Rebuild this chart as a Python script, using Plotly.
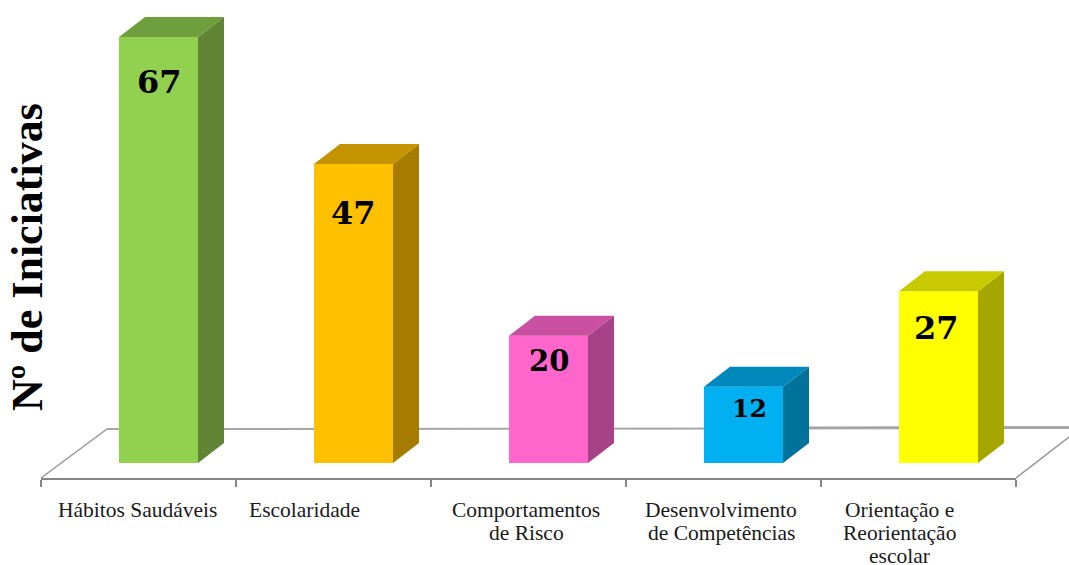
import plotly.graph_objects as go

# ---- data ----
categories = ["Hábitos Saudáveis", "Escolaridade", "Comportamentos de Risco",
              "Desenvolvimento de Competências", "Orientação e Reorientação escolar"]
values = [67, 47, 20, 12, 27]
front_colors = ["#92D050", "#FFC000", "#FF66CC", "#00B0F0", "#FFFF00"]
side_colors = ["#608535", "#A67C00", "#A64285", "#00739C", "#A6A600"]
top_colors = ["#6F9E3D", "#C49400", "#C94FA0", "#0088BA", "#C9C900"]
category_lines = [["Hábitos Saudáveis"], ["Escolaridade"], ["Comportamentos", "de Risco"],
                  ["Desenvolvimento", "de Competências"], ["Orientação e", "Reorientação", "escolar"]]

# ---- layout constants (pixels of the 1069x565 page) ----
W, H = 1069, 565
L, R_PX, FLOOR = 41, 1016, 478
BAND = (R_PX - L) / 5
PX_PER_UNIT = 6.36
ZERO_PX = 463
BAR_W = 79 / BAND
BAR_OFFSET = 20 / BAND
DEPTH_X = 26 / BAND
DEPTH_Y = 20 / PX_PER_UNIT
LABEL_FONT = "Liberation Serif"
VALUE_FONT = "DejaVu Serif"
label_center_px = [137, 304, 526, 721, 899]
value_px = [(159, 82, 32), (353, 213, 32), (549, 361, 29), (749, 408, 25), (936, 328, 32)]

def xpaper(px):
    return (px - L) / (R_PX - L)

def ypaper(py):
    return (FLOOR - py) / FLOOR

fig = go.Figure()
xs = [i + BAR_OFFSET for i in range(len(values))]

# front faces
fig.add_trace(go.Bar(x=xs, y=values, width=BAR_W, marker=dict(color=front_colors, line_width=0),
                     customdata=categories, hoverinfo="skip", showlegend=False))

# side and top faces, derived from the values
for x, v, sc, tc in zip(xs, values, side_colors, top_colors):
    x0, x1 = x - BAR_W / 2, x + BAR_W / 2
    fig.add_trace(go.Scatter(x=[x1, x1 + DEPTH_X, x1 + DEPTH_X, x1, x1],
                             y=[0, DEPTH_Y, v + DEPTH_Y, v, 0],
                             mode="lines", fill="toself", fillcolor=sc, line=dict(width=0),
                             hoverinfo="skip", showlegend=False, cliponaxis=False))
    fig.add_trace(go.Scatter(x=[x0, x1, x1 + DEPTH_X, x0 + DEPTH_X, x0],
                             y=[v, v, v + DEPTH_Y, v + DEPTH_Y, v],
                             mode="lines", fill="toself", fillcolor=tc, line=dict(width=0),
                             hoverinfo="skip", showlegend=False, cliponaxis=False))

def seg(x0, y0, x1, y1, w, c="#A6A6A6"):
    return dict(type="line", xref="paper", yref="paper", layer="below",
                x0=xpaper(x0), y0=ypaper(y0), x1=xpaper(x1), y1=ypaper(y1),
                line=dict(color=c, width=w))

shapes = [seg(107, 429, 785, 428.6, 2), seg(785, 428, 1069, 427.5, 3),
          seg(41, 478, 107, 429, 1.5, "#969696"), seg(1016, 478, 1069, 437, 1.5, "#969696")]

annotations = [dict(text="Nº de Iniciativas", xref="paper", yref="paper",
                    x=xpaper(27), y=ypaper(257), textangle=-90, showarrow=False,
                    xanchor="center", yanchor="middle",
                    font=dict(family=LABEL_FONT, size=44, color="black", weight="bold"))]
for cx, lines in zip(label_center_px, category_lines):
    for j, line in enumerate(lines):
        annotations.append(dict(text=line, xref="paper", yref="paper", x=xpaper(cx),
                                y=ypaper(510 + 23 * j), showarrow=False,
                                xanchor="center", yanchor="middle",
                                font=dict(family=LABEL_FONT, size=21.5, color="#1a1a1a")))
for v, (px, py, size) in zip(values, value_px):
    annotations.append(dict(text=str(v), xref="paper", yref="paper", x=xpaper(px), y=ypaper(py),
                            showarrow=False, xanchor="center", yanchor="middle",
                            font=dict(family=VALUE_FONT, size=size, color="black", weight="bold")))

fig.update_layout(
    width=W, height=H, autosize=False,
    margin=dict(l=L, r=W - R_PX, t=0, b=H - FLOOR, pad=0),
    paper_bgcolor="white", plot_bgcolor="white",
    showlegend=False, shapes=shapes, annotations=annotations,
    xaxis=dict(range=[-0.5, 4.5], tickmode="array", tickvals=[i - 0.5 for i in range(6)],
               ticktext=[""] * 6, ticks="outside", ticklen=7, tickwidth=1.5, tickcolor="#868686",
               showline=True, linecolor="#868686", linewidth=2, showgrid=False, zeroline=False),
    yaxis=dict(range=[(ZERO_PX - FLOOR) / PX_PER_UNIT, ZERO_PX / PX_PER_UNIT],
               visible=False, showgrid=False, zeroline=False),
)

fig.write_html("out.html", config=dict(displayModeBar=False),
               post_script="document.body.style.margin='0';document.body.style.overflow='hidden';")
